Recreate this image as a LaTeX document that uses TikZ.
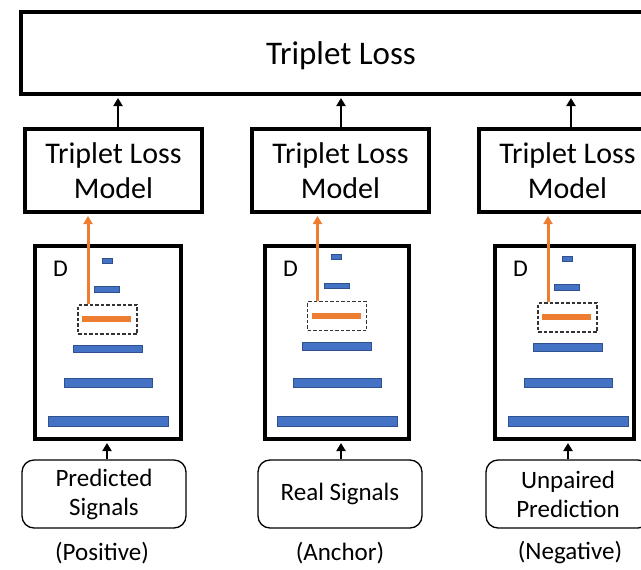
\documentclass[tikz,border=0pt]{standalone}
\usepackage{fontspec}
\setmainfont{Carlito}
\usetikzlibrary{arrows.meta}
\definecolor{barblue}{HTML}{4472C4}
\definecolor{baredge}{HTML}{2F528F}
\definecolor{orng}{HTML}{ED7D31}
\tikzset{
 thickbox/.style={draw=black, line width=4pt, inner sep=0pt, align=center},
 topbox/.style={thickbox, minimum width=640pt, minimum height=82pt, font=\fontsize{33}{38}\selectfont},
 modelbox/.style={thickbox, minimum width=177pt, minimum height=83pt, font=\fontsize{30}{35}\selectfont},
 dbox/.style={thickbox, minimum height=193pt},
 inbox/.style={draw=black, line width=1.3pt, rounded corners=12pt, minimum width=164pt, minimum height=68pt, inner sep=0pt, align=center, font=\fontsize{25}{29}\selectfont},
 lbl/.style={font=\fontsize{25}{29}\selectfont, inner sep=0pt},
 bar/.style={fill=barblue, draw=baredge, line width=0.8pt, inner sep=0pt, minimum height=#1},
 obar/.style={fill=orng, inner sep=0pt, minimum height=#1},
 dashbox/.style={draw=black!80, line width=1.2pt, dash pattern=on 3.5pt off 2pt, inner sep=0pt, minimum width=59pt, minimum height=29pt},
 arr/.style={line width=2.7pt, -{Triangle[length=8pt,width=9pt]}, shorten >=2pt},
 oarr/.style={draw=orng, line width=3pt, -{Triangle[length=8pt,width=9pt]}, shorten >=2pt},
 dlbl/.style={font=\fontsize{24}{28}\selectfont, inner sep=0pt},
}
\newcommand\mycol[7]{%
 \node[modelbox] (m#1) at (#2,170.5) {Triplet Loss\\Model};
 \coordinate (ta#1) at (#3,0);
 \draw[arr] (ta#1 |- m#1.north) -- (ta#1 |- top.south);
 \node[dbox, minimum width=#5pt] (d#1) at (#4,342.5) {};
 \node[dlbl] (D#1) at (#4-#5/2+25.5,269) {D};
 \node[bar=5pt, minimum width=10pt] (ba#1) at (#6,260.5+#7) {};
 \node[bar=5.5pt, minimum width=25pt] (bb#1) at (#6,289.5+#7) {};
 \node[dashbox] (x#1) at (#6+0.5,319.5+#7) {};
 \node[obar=6pt, minimum width=49pt] (o#1) at (#6-0.5,319+#7) {};
 \node[bar=7.5pt, minimum width=69pt] (bc#1) at (#6+0.5,349+#7*0.7) {};
 \node[bar=9pt, minimum width=88pt] (bd#1) at (#6+1,382.5) {};
 \node[bar=10pt, minimum width=120pt] (be#1) at (#6+1,421) {};
 \coordinate (oa#1) at (#6-19,0);
 \draw[oarr] (oa#1 |- x#1.north) -- (oa#1 |- m#1.south);
}
\begin{document}
\begin{tikzpicture}[x=1pt,y=-1pt]
\useasboundingbox (0,0) rectangle (641,570);
\clip (0,0) rectangle (641,570);
\node[topbox] (top) at (341,53) {};
\node[font=\fontsize{33}{38}\selectfont, inner sep=0pt] (toptext) at (341,56) {Triplet Loss};
\mycol{L}{113.5}{118}{108}{146}{107}{0}
\mycol{M}{340.5}{341}{337}{144}{336.5}{-3.5}
\mycol{R}{567.5}{571}{564.5}{139}{567}{-2}
\node[inbox] (iL) at (104,494) {Predicted\\Signals};
\node[inbox] (iM) at (340,494) {Real Signals};
\node[inbox] (iR) at (568,494) {Unpaired\\Prediction};
\coordinate (iaL) at (107,0);
\coordinate (iaM) at (341,0);
\coordinate (iaR) at (568,0);
\draw[arr] (iaL |- iL.north) -- (iaL |- dL.south);
\draw[arr] (iaM |- iM.north) -- (iaM |- dM.south);
\draw[arr] (iaR |- iR.north) -- (iaR |- dR.south);
\node[lbl] (lL) at (102,553) {(Positive)};
\node[lbl] (lM) at (340,553) {(Anchor)};
\node[lbl] (lR) at (570,553) {(Negative)};
\end{tikzpicture}
\end{document}
